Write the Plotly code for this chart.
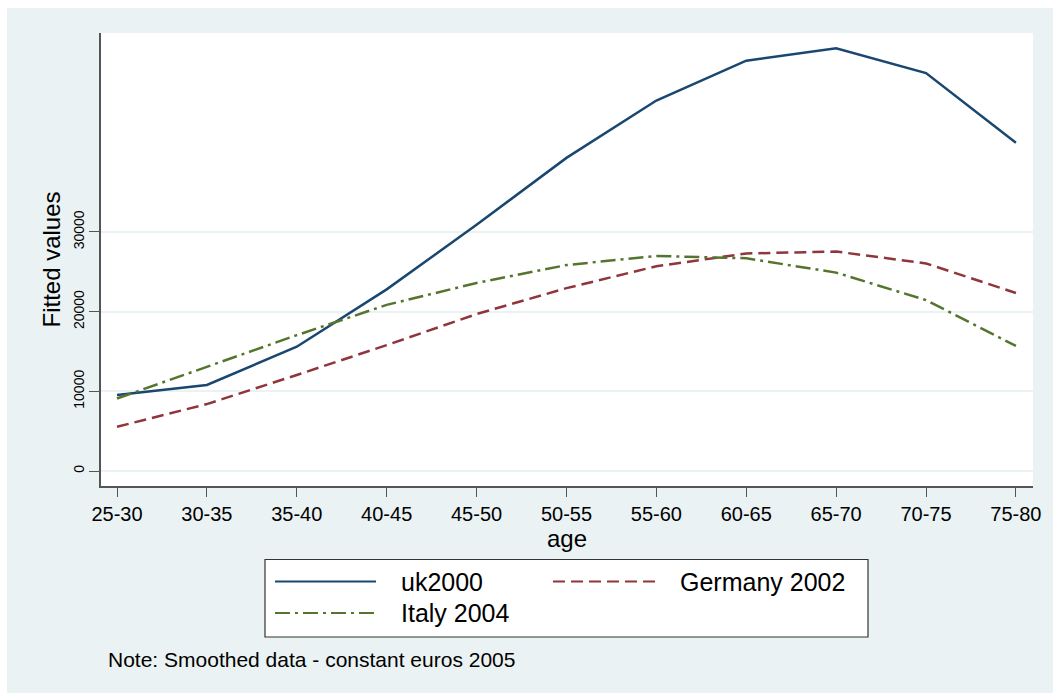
import plotly.graph_objects as go

# Age bands on the horizontal axis
age_bands = ["25-30", "30-35", "35-40", "40-45", "45-50", "50-55",
             "55-60", "60-65", "65-70", "70-75", "75-80"]

# Smoothed fitted income by age band (constant euros 2005)
uk2000 = [9550, 10800, 15600, 22800, 30900, 39300, 46500, 51500, 53050, 49950, 41200]
germany2002 = [5550, 8400, 12050, 15800, 19700, 22950, 25700, 27300, 27550, 26050, 22350]
italy2004 = [9100, 13100, 17050, 20850, 23600, 25850, 27000, 26700, 24900, 21450, 15700]

y_ticks = [0, 10000, 20000, 30000]

BG = "#eaf2f3"
NAVY = "#1a476f"
MAROON = "#90353b"
GREEN = "#55752f"
FONT = "Liberation Sans, Arial, sans-serif"

W, H = 1053, 693
L, R, T, B = 101, 1033, 33, 486  # plot area edges in pixels


def px(x):
    return (x - L) / (R - L)


def py(y):
    return (B - y) / (B - T)


fig = go.Figure()
series = [
    ("uk2000", uk2000, NAVY, "solid"),
    ("Germany 2002", germany2002, MAROON, "12px,6px"),
    ("Italy 2004", italy2004, GREEN, "15px,5px,3px,5px"),
]
for name, vals, color, dash in series:
    fig.add_trace(go.Scatter(
        x=age_bands, y=vals, mode="lines", name=name,
        line=dict(color=color, width=2.5, dash=dash),
        showlegend=False,
    ))

shapes = [
    # white strips at top and left edge of the page
    dict(type="rect", xref="paper", yref="paper", x0=px(0), x1=px(W), y0=py(0), y1=py(8),
         fillcolor="white", line=dict(width=0), layer="above"),
    dict(type="rect", xref="paper", yref="paper", x0=px(0), x1=px(7), y0=py(0), y1=py(H),
         fillcolor="white", line=dict(width=0), layer="above"),
    # legend frame
    dict(type="rect", xref="paper", yref="paper", x0=px(265), x1=px(868), y0=py(559.5), y1=py(637),
         fillcolor="white", line=dict(color="#333333", width=1.2), layer="above"),
]

# legend keys and labels
legend_items = [
    ("uk2000", NAVY, "solid", 275, 376, 399, 581.5),
    ("Germany 2002", MAROON, "12px,6px", 553, 655, 678, 581.5),
    ("Italy 2004", GREEN, "15px,5px,3px,5px", 275, 376, 399, 613),
]
annotations = []
for label, color, dash, x0, x1, tx, ty in legend_items:
    shapes.append(dict(type="line", xref="paper", yref="paper",
                       x0=px(x0), x1=px(x1), y0=py(ty), y1=py(ty),
                       line=dict(color=color, width=2.2, dash=dash), layer="above"))
    annotations.append(dict(xref="paper", yref="paper", x=px(tx), y=py(ty),
                            text=label, showarrow=False, xanchor="left", yanchor="middle",
                            font=dict(family=FONT, size=25, color="black")))

annotations.append(dict(xref="paper", yref="paper", x=px(106), y=py(659),
                        text="Note: Smoothed data - constant euros 2005", showarrow=False,
                        xanchor="left", yanchor="middle",
                        font=dict(family=FONT, size=21, color="black")))

fig.update_layout(
    width=W, height=H,
    margin=dict(l=L, r=W - R, t=T, b=H - B, pad=0),
    paper_bgcolor=BG, plot_bgcolor="white",
    font=dict(family=FONT, color="black"),
    shapes=shapes, annotations=annotations,
    showlegend=False,
)

fig.update_xaxes(
    type="category", range=[-0.178, 10.19],
    showgrid=False, zeroline=False,
    showline=True, linecolor="#555555", linewidth=1.5,
    ticks="outside", ticklen=9, tickwidth=1.2, tickcolor="#555555",
    tickfont=dict(size=20, family=FONT),
    title=dict(text="age", font=dict(size=24, family=FONT), standoff=0),
)
fig.update_yaxes(
    range=[-1883, 54977], tickvals=y_ticks, ticktext=[str(v) for v in y_ticks],
    tickangle=-90,
    showgrid=True, gridcolor=BG, gridwidth=2, zeroline=False,
    showline=True, linecolor="#555555", linewidth=1.5,
    ticks="outside", ticklen=10, tickwidth=1.2, tickcolor="#555555",
    tickfont=dict(size=14, family=FONT),
    title=dict(text="Fitted values", font=dict(size=24, family=FONT), standoff=3),
)

fig.write_html("out.html")
